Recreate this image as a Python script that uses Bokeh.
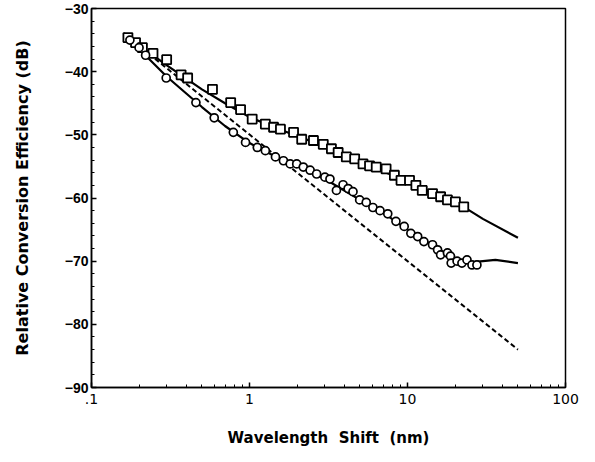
from bokeh.plotting import figure
from bokeh.models import FixedTicker
from bokeh.embed import file_html
from bokeh.resources import INLINE

# ---- data ----
sq_x = [0.17, 0.19, 0.21, 0.245, 0.299, 0.369, 0.406, 0.583, 0.76, 0.878, 1.04, 1.26, 1.42,
        1.57, 1.90, 2.14, 2.54, 2.93, 3.30, 3.64, 4.10, 4.63, 5.23, 5.75, 6.34, 7.32, 8.26,
        9.10, 10.3, 11.3, 12.4, 14.4, 16.2, 17.9, 20.1, 22.7]
sq_y = [-34.6, -35.4, -36.2, -37.1, -38.1, -40.5, -41.0, -42.8, -44.9, -46.0, -47.5, -48.3,
        -48.8, -49.1, -49.6, -50.7, -50.9, -51.5, -52.2, -52.8, -53.5, -53.8, -54.6, -54.9,
        -55.1, -55.4, -56.4, -57.2, -57.2, -58.0, -58.8, -59.3, -59.8, -60.3, -60.6, -61.4]

ci_x = [0.175, 0.2, 0.22, 0.297, 0.458, 0.598, 0.79, 0.944, 1.12, 1.26, 1.46, 1.64, 1.81,
        1.99, 2.19, 2.42, 2.66, 3.00, 3.23, 3.55, 3.91, 4.21, 4.52, 4.98, 5.48, 6.04, 6.7,
        7.5, 8.45, 9.53, 10.5, 11.6, 12.7, 14.4, 15.5, 16.2, 17.9, 18.7, 18.9, 20.6, 22.1,
        23.8, 25.6, 27.5]
ci_y = [-35.0, -36.2, -37.4, -41.0, -44.9, -47.3, -49.6, -51.2, -52.0, -52.5, -53.5, -54.1,
        -54.6, -54.6, -55.1, -55.6, -56.2, -56.7, -57.0, -58.8, -57.9, -58.5, -59.0, -60.3,
        -60.7, -61.5, -62.0, -62.5, -63.7, -64.5, -65.6, -66.1, -66.9, -67.4, -68.2, -69.0,
        -68.7, -69.2, -70.3, -70.0, -70.3, -69.8, -70.6, -70.6]

fit_sq_x = [0.16, 0.2, 0.3, 0.5, 0.7, 1.0, 1.5, 2.0, 3.0, 5.0, 7.0, 10.0, 15.0, 22.0, 30.0, 50.0]
fit_sq_y = [-33.9, -35.8, -39.0, -42.8, -45.0, -47.2, -49.0, -50.2, -51.8, -54.4, -55.8,
            -57.3, -59.5, -61.2, -63.3, -66.3]

fit_ci_x = [0.16, 0.2, 0.3, 0.5, 0.7, 1.0, 1.5, 2.0, 3.0, 5.0, 7.0, 10.0, 15.0, 20.0, 25.0,
            30.0, 36.0, 50.0]
fit_ci_y = [-34.0, -36.4, -40.8, -45.6, -48.6, -51.3, -53.6, -54.9, -57.0, -60.3, -62.3,
            -65.0, -67.8, -69.6, -70.2, -70.0, -69.8, -70.3]

theory_x = [0.16, 50.0]
theory_y = [-34.0, -84.0]

x_ticks = [0.1, 1, 10, 100]
x_tick_labels = [".1", "1", "10", "100"]
y_ticks = [-90, -80, -70, -60, -50, -40, -30]

# ---- figure ----
p = figure(x_axis_type="log", x_range=(0.1, 100), y_range=(-90, -30),
           frame_width=474, frame_height=379, output_backend="svg",
           toolbar_location=None, min_border_left=91, min_border_right=14,
           min_border_top=8, min_border_bottom=59)
p.background_fill_color = "white"
p.border_fill_color = "white"
p.grid.visible = False
p.outline_line_color = "black"
p.outline_line_width = 1.5

minor_x = [k * 10.0 ** e for e in (-1, 0, 1) for k in range(2, 10)]
p.xaxis.ticker = FixedTicker(ticks=x_ticks, minor_ticks=minor_x)
p.xaxis.major_label_overrides = {t: l for t, l in zip(x_ticks, x_tick_labels)}
minor_y = [v for v in range(-90, -29, 2)]
p.yaxis.ticker = FixedTicker(ticks=y_ticks, minor_ticks=minor_y)

for ax in (p.xaxis[0], p.yaxis[0]):
    ax.axis_line_color = "black"
    ax.axis_line_width = 1.5
    ax.major_tick_in = 5
    ax.major_tick_out = 0
    ax.minor_tick_in = 3
    ax.minor_tick_out = 0
    ax.major_tick_line_width = 1.5
    ax.minor_tick_line_width = 1
    ax.major_label_text_color = "black"
    ax.axis_label_text_font = "DejaVu Sans"
    ax.axis_label_text_font_style = "bold"
    ax.axis_label_text_color = "black"

p.xaxis.axis_label_text_font_size = "15px"
p.yaxis.axis_label_text_font_size = "16px"
p.yaxis.major_label_text_font = "Liberation Sans"
p.yaxis.major_label_text_font_size = "14px"
p.yaxis.major_label_text_font_style = "bold"
p.xaxis.major_label_text_font = "DejaVu Sans"
p.xaxis.major_label_text_font_size = "14px"
p.xaxis.major_label_text_font_style = "normal"

p.xaxis.axis_label = "Wavelength \u00a0Shift \u00a0(nm)"
p.yaxis.axis_label = "Relative Conversion Efficiency (dB)"
p.xaxis.major_label_standoff = 6
p.yaxis.major_label_standoff = 3
p.xaxis.axis_label_standoff = 22
p.yaxis.axis_label_standoff = 30

p.line(theory_x, theory_y, line_color="black", line_width=2, line_dash="5 3")
p.line(fit_sq_x, fit_sq_y, line_color="black", line_width=2.2)
p.line(fit_ci_x, fit_ci_y, line_color="black", line_width=2.2)
p.scatter(sq_x, sq_y, marker="square", size=9, fill_color="white",
          line_color="black", line_width=1.8)
p.scatter(ci_x, ci_y, marker="circle", size=8, fill_color="white",
          line_color="black", line_width=1.7)

open("out.html", "w").write(file_html(p, INLINE))
